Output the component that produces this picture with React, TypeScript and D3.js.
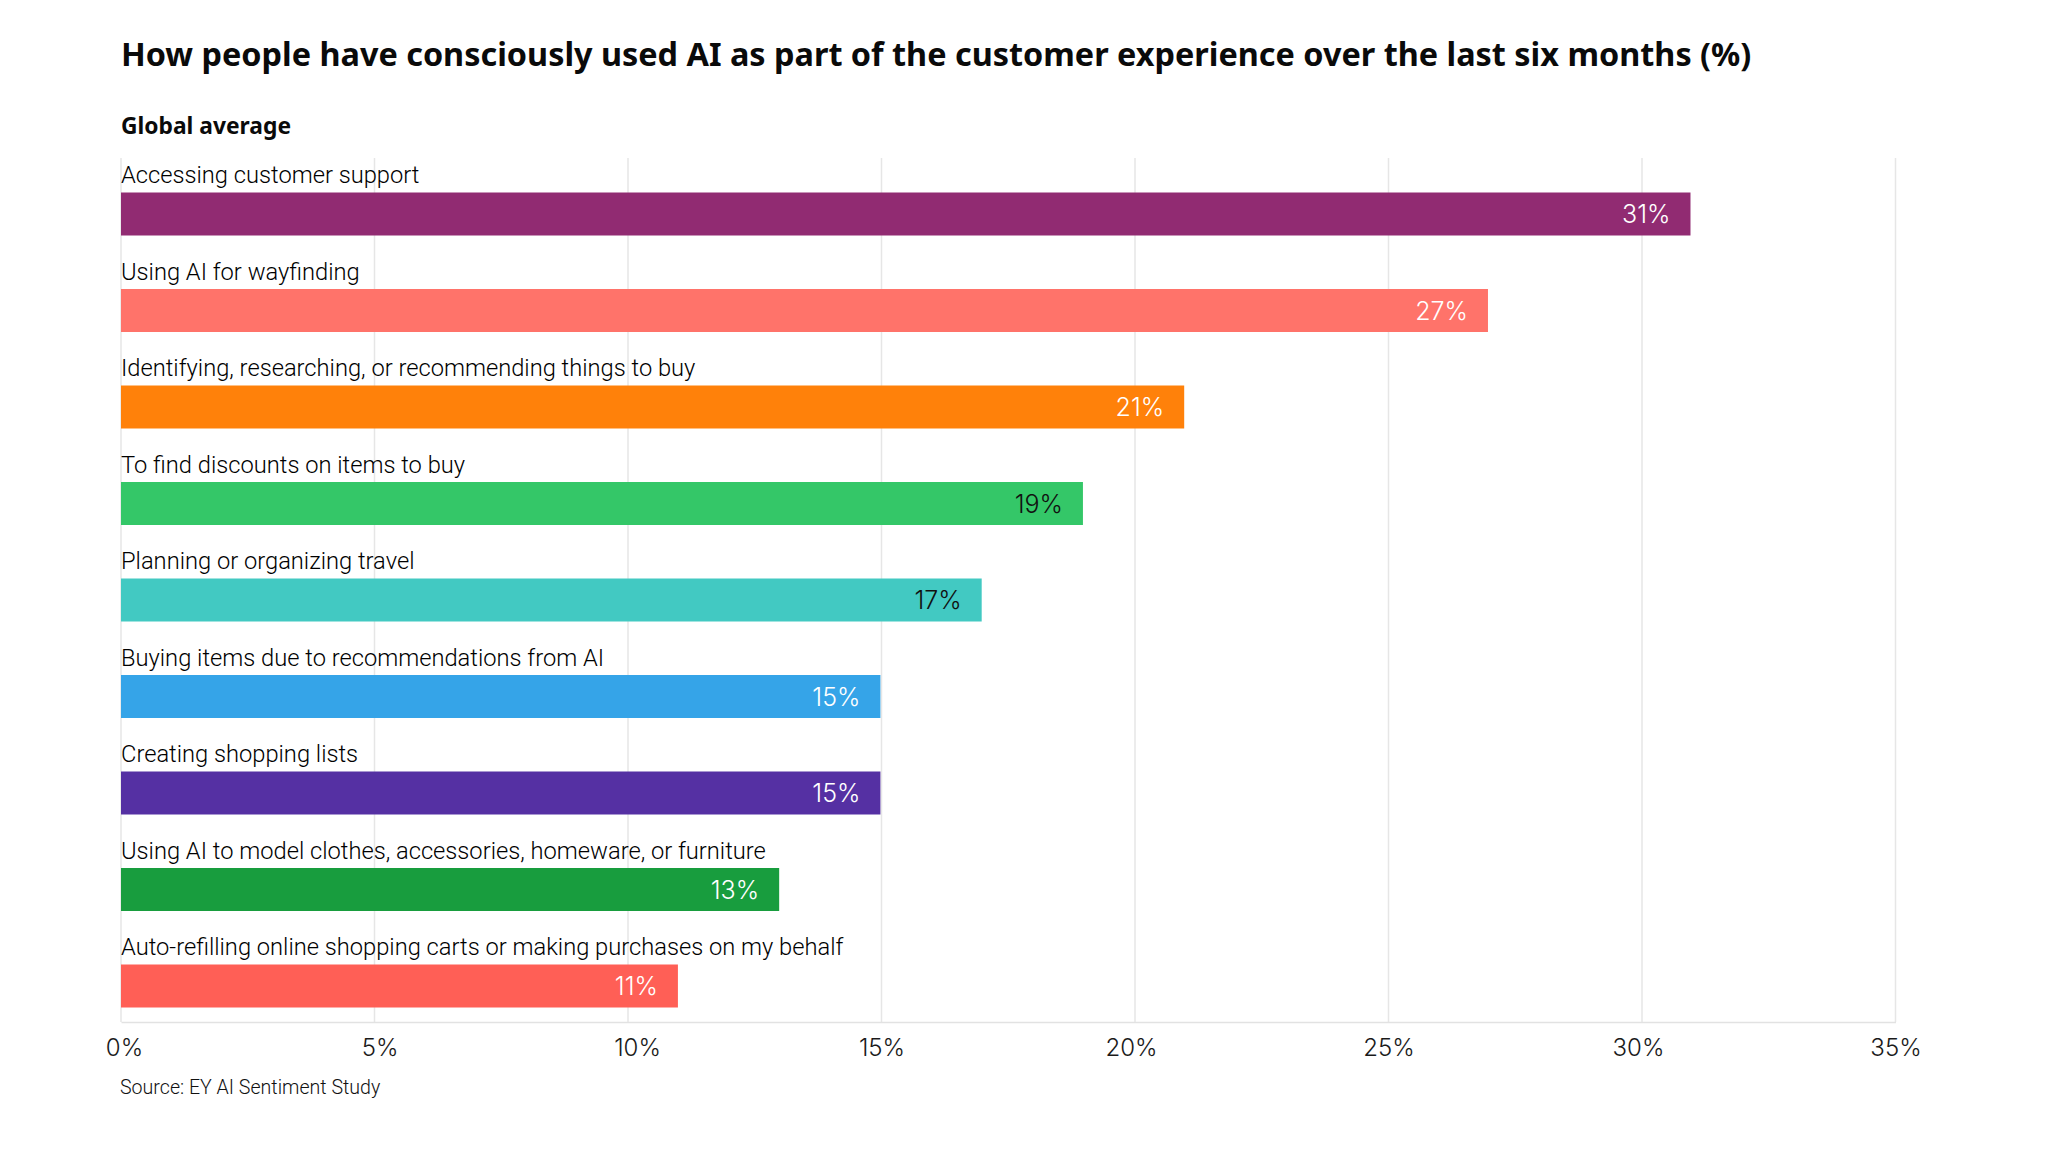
import { useEffect, useRef } from 'react';
import * as d3 from 'd3';

const TITLE = 'How people have consciously used AI as part of the customer experience over the last six months (%)';
const SUBTITLE = 'Global average';
const SOURCE = 'Source: EY AI Sentiment Study';

const categories = [
  'Accessing customer support',
  'Using AI for wayfinding',
  'Identifying, researching, or recommending things to buy',
  'To find discounts on items to buy',
  'Planning or organizing travel',
  'Buying items due to recommendations from AI',
  'Creating shopping lists',
  'Using AI to model clothes, accessories, homeware, or furniture',
  'Auto-refilling online shopping carts or making purchases on my behalf',
];
const values = [31, 27, 21, 19, 17, 15, 15, 13, 11];
const barColors = ['#912b72', '#ff736a', '#ff810a', '#34c768', '#42c9c2', '#35a4e8', '#5530a3', '#189d3e', '#ff5f56'];
const labelColors = ['#fff', '#fff', '#fff', '#111', '#111', '#fff', '#fff', '#fff', '#fff'];
const xTicks = [0, 5, 10, 15, 20, 25, 30, 35];
// the tick labels in the original don't sit exactly under their gridlines
const tickNudge = [3, 5, 9, 0, -4, 0, -4, 0];

const WIDTH = 2048;
const HEIGHT = 1152;
const PLOT = { left: 121, right: 1895.5, top: 158, bottom: 1022 };
const ROW_TOP = 144; // top of the first row, label included
const ROW_STEP = 96.5;
const BAR_HEIGHT = 43;
const BAR_OFFSET = 48.5;

const FONT = 'Roboto, sans-serif';
const HEAD_FONT = '"Noto Sans", sans-serif';
const NUM_FONT = 'Inter, sans-serif';

export default function App() {
  const axisRef = useRef<SVGGElement>(null);

  // bars come out a touch shorter than the gridlines in the original
  const x = d3.scaleLinear().domain([0, 35]).range([PLOT.left, 1893]);
  const xGrid = d3.scaleLinear().domain([0, 35]).range([PLOT.left, PLOT.right]);

  const y = d3
    .scaleBand<string>()
    .domain(categories)
    .range([ROW_TOP, ROW_TOP + ROW_STEP * categories.length]);

  useEffect(() => {
    if (!axisRef.current) return;
    const axis = d3
      .axisBottom(xGrid)
      .tickValues(xTicks)
      .tickSize(0)
      .tickPadding(17)
      .tickFormat((d) => `${d}%`);
    const g = d3.select(axisRef.current).call(axis);
    g.select('.domain').attr('stroke', '#e2e2e2').attr('stroke-width', 1.5);
    g.selectAll('text')
      .attr('dx', (_d, i) => tickNudge[i])
      .attr('font-family', NUM_FONT)
      .attr('font-size', 24)
      .attr('font-weight', 300)
      .attr('fill', '#1a1a1a');
  }, []);

  return (
    <svg
      width={WIDTH}
      height={HEIGHT}
      viewBox={`0 0 ${WIDTH} ${HEIGHT}`}
      style={{ position: 'absolute', left: 0, top: 0, background: '#fff' }}
    >
      <text x={121} y={66} fontFamily={HEAD_FONT} fontWeight={700} fontSize={32.4} fill="#0a0a0a">
        {TITLE}
      </text>
      <text x={121} y={134} fontFamily={HEAD_FONT} fontWeight={700} fontSize={22.8} fill="#0a0a0a">
        {SUBTITLE}
      </text>

      {xTicks.map((t) => (
        <line
          key={t}
          x1={xGrid(t)}
          x2={xGrid(t)}
          y1={PLOT.top}
          y2={PLOT.bottom}
          stroke="#e6e6e6"
          strokeWidth={1.5}
        />
      ))}

      {categories.map((c, i) => {
        const top = y(c)! + BAR_OFFSET;
        return (
          <g key={c}>
            <text x={121} y={top - 9.5} fontFamily={FONT} fontWeight={300} fontSize={23.7} fill="#000">
              {c}
            </text>
            <rect x={x(0)} y={top} width={x(values[i]) - x(0)} height={BAR_HEIGHT} fill={barColors[i]} />
            <text
              x={x(values[i]) - 20}
              y={top + BAR_HEIGHT / 2 + 9}
              textAnchor="end"
              fontFamily={NUM_FONT}
              fontWeight={300}
              fontSize={25}
              fill={labelColors[i]}
            >
              {`${values[i]}%`}
            </text>
          </g>
        );
      })}

      <g ref={axisRef} transform={`translate(0,${PLOT.bottom})`} />

      <text x={120} y={1094} fontFamily={FONT} fontWeight={300} fontSize={19.6} fill="#111">
        {SOURCE}
      </text>
    </svg>
  );
}
